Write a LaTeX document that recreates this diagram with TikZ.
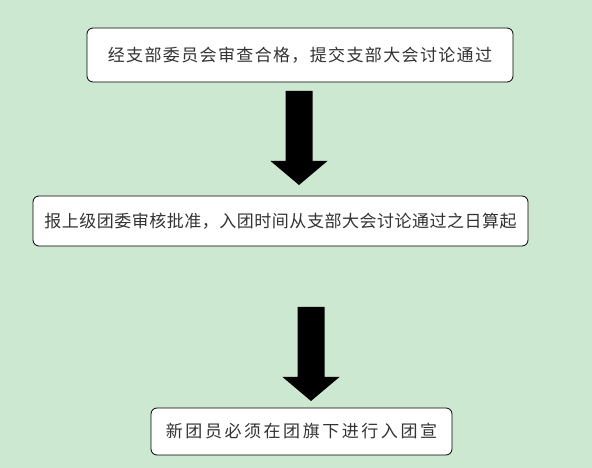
\documentclass[tikz,border=0pt]{standalone}
\usepackage{fontspec}
\newfontfamily\cjk{Noto Sans CJK SC}
\definecolor{PageGreen}{RGB}{204,232,208}
\usetikzlibrary{positioning, calc, backgrounds}

\begin{document}
\begin{tikzpicture}[x=1pt, y=1pt, font=\cjk\fontsize{17}{20}\selectfont]
    \tikzset{
        stepbox/.style={rectangle, rounded corners=6pt, draw=black, line width=0.8pt,
            fill=white, inner sep=0pt, text=black!80},
        blockdown/.pic={
            \fill[black] (-13.5,0) -- (-13.5,-70) -- (-28.5,-70) -- (0,-94)
                -- (28.5,-70) -- (13.5,-70) -- (13.5,0) -- cycle;
        }
    }
    \fill[PageGreen] (0,0) rectangle (592,468);
    \useasboundingbox (0,0) rectangle (592,468);
    \node[stepbox, minimum width=426pt, minimum height=54pt] (review) at (300,413)
        {\addfontfeature{LetterSpace=8}经支部委员会审查合格，提交支部大会讨论通过\hspace{6pt}};
    \node[stepbox, minimum width=495pt, minimum height=50pt] (approve) at (280.5,247)
        {\addfontfeature{LetterSpace=3}报上级团委审核批准，入团时间从支部大会讨论通过之日算起};
    \node[stepbox, minimum width=301pt, minimum height=47pt] (oath) at (301.5,36.5)
        {\addfontfeature{LetterSpace=15}新团员必须在团旗下进行入团宣};
    % block arrows between the steps
    \coordinate (arrowA) at (299,377);
    \coordinate (arrowB) at (311,161);
    \pic at (arrowA) {blockdown};
    \pic at (arrowB) {blockdown};
\end{tikzpicture}
\end{document}
